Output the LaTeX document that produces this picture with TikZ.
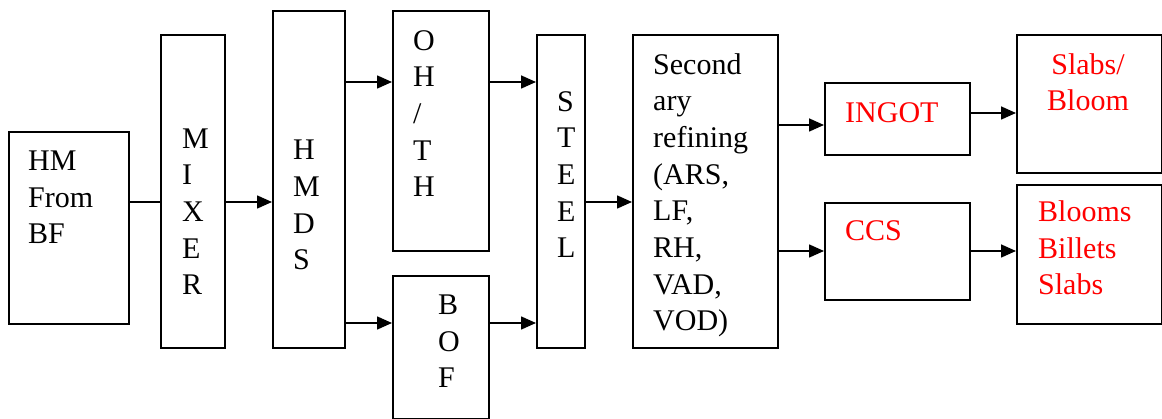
\documentclass[tikz,border=0pt]{standalone}
\usepackage{fontspec}
\setmainfont{Liberation Serif}
\usetikzlibrary{arrows.meta}
\begin{document}
\begin{tikzpicture}[x=1pt, y=-1pt,
  box/.style={draw, line width=1.6pt, inner sep=0pt, anchor=north west},
  % multi-line labels are placed by the baseline of their last line
  txt/.style={inner sep=0pt, align=left, anchor=base west,
              font=\fontsize{30}{36.7}\selectfont},
  redtxt/.style={txt, text=red},
  link/.style={line width=1.6pt},
  arr/.style={link, -{Triangle[length=15pt, width=13pt]}}]
\useasboundingbox (0,0) rectangle (1162,419);

% boxes
\node[box, minimum width=120pt, minimum height=192pt] (hm)    at (8,131)   {};
\node[box, minimum width=64pt,  minimum height=313pt] (mixer) at (160,34)  {};
\node[box, minimum width=72pt,  minimum height=337pt] (hmds)  at (272,10)  {};
\node[box, minimum width=96pt,  minimum height=240pt] (ohth)  at (392,10)  {};
\node[box, minimum width=96pt,  minimum height=143pt] (bof)   at (392,275) {};
\node[box, minimum width=48pt,  minimum height=313pt] (steel) at (536,34)  {};
\node[box, minimum width=145pt, minimum height=313pt] (sec)   at (632,34)  {};
\node[box, minimum width=145pt, minimum height=72pt]  (ingot) at (824,82)  {};
\node[box, minimum width=145pt, minimum height=97pt]  (ccs)   at (824,202) {};
\node[box, minimum width=145pt, minimum height=138pt] (slabs) at (1016,34) {};
\node[box, minimum width=145pt, minimum height=139pt] (blooms) at (1016,184) {};

% labels
\node[txt] (hmt)    at (28,244)  {HM\\From\\BF};
\node[txt] (mixert) at (182,295) {M\\I\\X\\E\\R};
\node[txt] (hmdst)  at (293,270) {H\\M\\D\\S};
\node[txt] (ohtht)  at (413,197) {O\\H\\/\\T\\H};
\node[txt] (boft)   at (438,388) {B\\O\\F};
\node[txt] (steelt) at (557,258) {S\\T\\E\\E\\L};
\node[txt] (sect)   at (653,331) {Second\\ary\\refining\\(ARS,\\LF,\\RH,\\VAD,\\VOD)};
\node[redtxt] (ingott) at (845,123) {INGOT};
\node[redtxt] (ccst)   at (845,241) {CCS};
\node[redtxt, align=center, anchor=base] (slabst) at (1088,111) {Slabs/\\Bloom};
\node[redtxt] (bloomst) at (1038,295) {Blooms\\Billets\\Slabs};

% connectors
\draw[link] (hm.east |- 0,202) -- (mixer.west |- 0,202);
\draw[arr] (mixer.east |- 0,202) -- (hmds.west |- 0,202);
\draw[arr] (hmds.east |- 0,82) -- (ohth.west |- 0,82);
\draw[arr] (hmds.east |- 0,323) -- (bof.west |- 0,323);
\draw[arr] (ohth.east |- 0,82) -- (steel.west |- 0,82);
\draw[arr] (bof.east |- 0,323) -- (steel.west |- 0,323);
\draw[arr] (steel.east |- 0,202) -- (sec.west |- 0,202);
\draw[arr] (sec.east |- 0,125) -- (ingot.west |- 0,125);
\draw[arr] (sec.east |- 0,251) -- (ccs.west |- 0,251);
\draw[arr] (ingot.east |- 0,113) -- (slabs.west |- 0,113);
\draw[arr] (ccs.east |- 0,251) -- (blooms.west |- 0,251);
\end{tikzpicture}
\end{document}
